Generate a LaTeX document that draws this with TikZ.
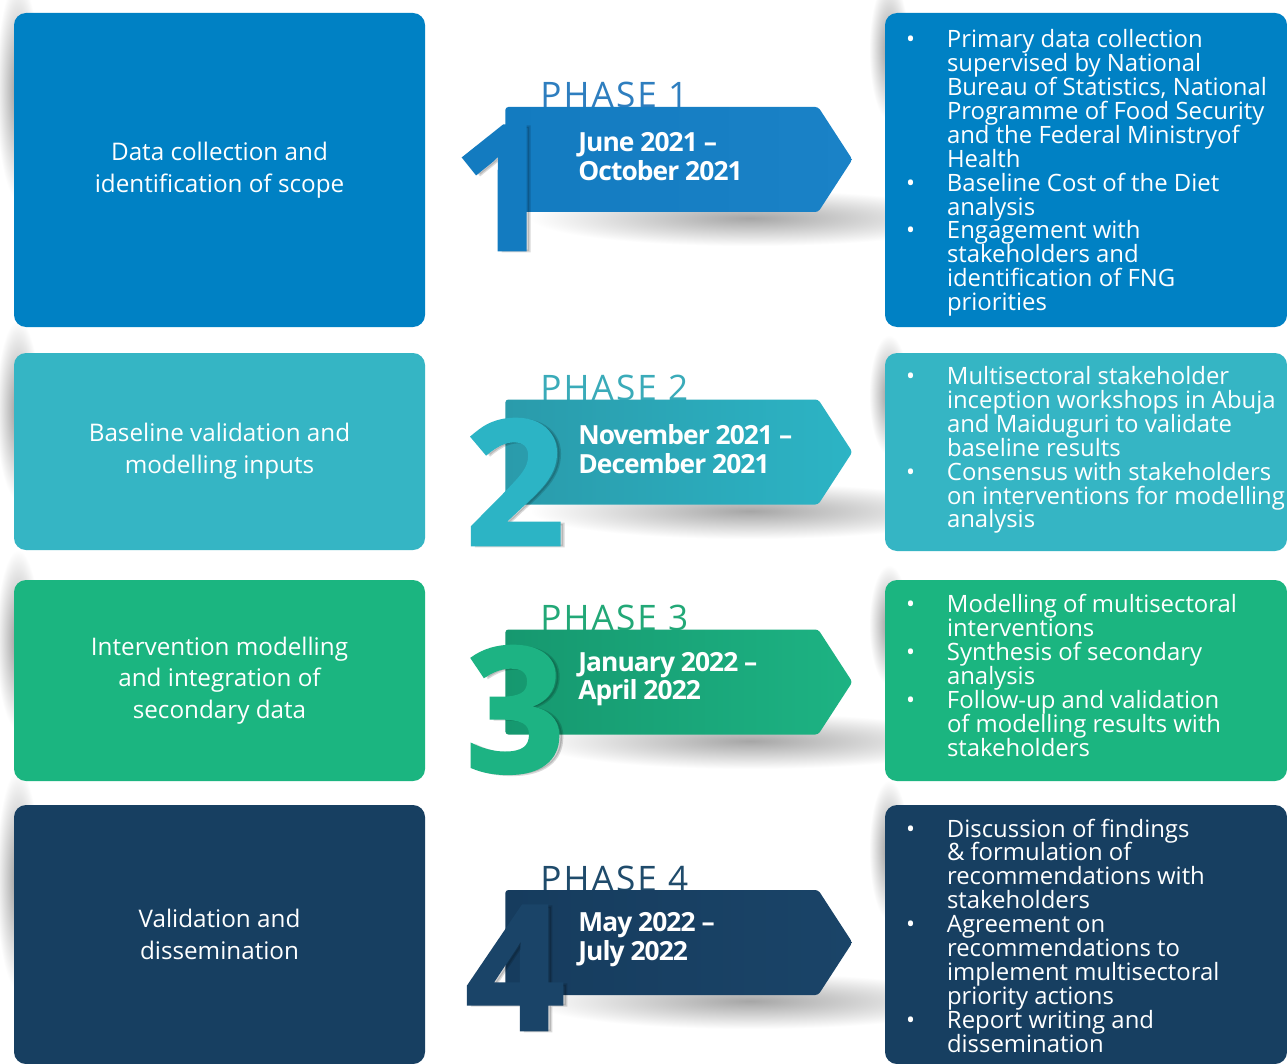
\documentclass[tikz,border=0pt]{standalone}
\usepackage{fontspec}
\setmainfont{Open Sans}
\newfontfamily\datefont[LetterSpace=-3.5]{Open Sans}
\newfontfamily\phasefont[LetterSpace=6]{Open Sans}
\newfontfamily\digitfont[BoldFeatures={FakeBold=1.6}]{Open Sans}
\usetikzlibrary{positioning, shapes.symbols}
\newlength\px \setlength\px{0.02cm}
\definecolor{blueA}{HTML}{0081C4}
\definecolor{blueR}{HTML}{137BC0}
\definecolor{blueS}{HTML}{1A82C7}
\definecolor{blueT}{HTML}{2E7EBF}
\definecolor{tealA}{HTML}{35B5C4}
\definecolor{tealR}{HTML}{2A9BAB}
\definecolor{tealS}{HTML}{2CB4C5}
\definecolor{tealT}{HTML}{3AABB9}
\definecolor{greenA}{HTML}{1BB580}
\definecolor{greenR}{HTML}{16986F}
\definecolor{greenS}{HTML}{1DB383}
\definecolor{greenT}{HTML}{22A877}
\definecolor{navyA}{HTML}{173F61}
\definecolor{navyR}{HTML}{163C5E}
\definecolor{navyS}{HTML}{1A4468}
\definecolor{navyT}{HTML}{1F4B6B}
\newcommand\bul{\llap{\makebox[41\px][l]{\textbullet}}}
\newcommand\tightlines{\lineskiplimit-20pt\relax}

\begin{document}
\begin{tikzpicture}
        [
            x=0.02cm, y=-0.02cm,
            lbox/.style={rectangle, rounded corners=12\px, fill=#1, minimum width=411\px,
                inner sep=0pt, text=white, align=center, font=\fontsize{13.8}{18.1}\selectfont},
            rbox/.style={rectangle, rounded corners=12\px, fill=#1, minimum width=402\px, inner sep=0pt},
            items/.style={text=white, align=left, inner sep=0pt,
                font=\fontsize{13.6}{13.6}\selectfont\tightlines},
            ribbon/.style={signal, signal to=east, signal pointer angle=114, rounded corners=3\px,
                minimum width=347\px, minimum height=105\px, inner sep=0pt, anchor=west},
            date/.style={text=white, align=left, inner sep=0pt, font=\fontsize{15}{16.2}\datefont\bfseries},
            phase/.style={inner sep=0pt, font=\fontsize{20}{20}\phasefont},
            digit/.style={inner sep=0pt, anchor=base, font=\fontsize{99}{99}\digitfont\bfseries},
            soft/.style={inner color=black!#1, outer color=white},
        ]
    \useasboundingbox (0,0) rectangle (1287,1064);
    \clip (0,0) rectangle (1287,1064);
    \fill[white] (0,0) rectangle (1287,1064);

    % shadows
    \shade[soft=40] (18,90) ellipse (22 and 110);
    \shade[soft=40] (889,50) ellipse (20 and 70);
    \shade[soft=35] (750,218) ellipse (220 and 28);
    \shade[soft=40] (18,410) ellipse (22 and 90);
    \shade[soft=40] (889,395) ellipse (20 and 60);
    \shade[soft=35] (750,511) ellipse (220 and 28);
    \shade[soft=40] (18,640) ellipse (22 and 90);
    \shade[soft=40] (889,625) ellipse (20 and 60);
    \shade[soft=35] (750,741) ellipse (220 and 28);
    \shade[soft=40] (18,880) ellipse (22 and 110);
    \shade[soft=40] (889,850) ellipse (20 and 70);
    \shade[soft=35] (750,1001) ellipse (220 and 28);

    % phase 1
    \node[lbox=blueA, minimum height=314\px] (s1) at (219.5,170) {Data collection and\\identification of scope};
    \node[rbox=blueA, minimum height=314\px] (b1) at (1086,170) {};
    \node[items, anchor=west] (t1) at ([xshift=62\px, yshift=-3\px]b1.west)
        {\bul Primary data collection\\supervised by National\\Bureau of Statistics, National\\Programme of Food Security\\and the Federal Ministryof\\Health\\
         \bul Baseline Cost of the Diet\\analysis\\
         \bul Engagement with\\stakeholders and\\identification of FNG\\priorities};
    \node[phase, text=blueT, anchor=base west] (p1) at (540,108) {PHASE 1};
    \node[ribbon, left color=blueR, right color=blueS] (r1) at (505,159.5) {};
    \node[date, anchor=west] (d1) at ([xshift=73\px, yshift=3\px]r1.west) {June 2021 –\\October 2021};
    \node[digit, text=black, opacity=.15] at (507,251) {1};
    \node[digit, text=blueR] (n1) at (503,250) {1};

    % phase 2
    \node[lbox=tealA, minimum height=197\px] (s2) at (219.5,451.5) {Baseline validation and\\modelling inputs};
    \node[rbox=tealA, minimum height=198\px] (b2) at (1086,452) {};
    \node[items, anchor=west] (t2) at ([xshift=62\px, yshift=2\px]b2.west)
        {\bul Multisectoral stakeholder\\inception workshops in Abuja\\and Maiduguri to validate\\baseline results\\
         \bul Consensus with stakeholders\\on interventions for modelling\\analysis};
    \node[phase, text=tealT, anchor=base west] (p2) at (540,400) {PHASE 2};
    \node[ribbon, left color=tealR, right color=tealS] (r2) at (505,452) {};
    \node[date, anchor=west] (d2) at ([xshift=73\px, yshift=3\px]r2.west) {November 2021 –\\December 2021};
    \node[digit, text=black, opacity=.15] at (519,546) {2};
    \node[digit, text=tealS] (n2) at (515,545) {2};

    % phase 3
    \node[lbox=greenA, minimum height=201\px] (s3) at (219.5,680.5) {Intervention modelling\\and integration of\\secondary data};
    \node[rbox=greenA, minimum height=201\px] (b3) at (1086,680.5) {};
    \node[items, anchor=west] (t3) at ([xshift=62\px, yshift=5\px]b3.west)
        {\bul Modelling of multisectoral\\interventions\\
         \bul Synthesis of secondary\\analysis\\
         \bul Follow-up and validation\\of modelling results with\\stakeholders};
    \node[phase, text=greenT, anchor=base west] (p3) at (540,630) {PHASE 3};
    \node[ribbon, left color=greenR, right color=greenS] (r3) at (505,682) {};
    \node[date, anchor=west] (d3) at ([xshift=73\px, yshift=3\px]r3.west) {January 2022 –\\April 2022};
    \node[digit, text=black, opacity=.15] at (519,773) {3};
    \node[digit, text=greenS] (n3) at (515,772) {3};

    % phase 4
    \node[lbox=navyA, minimum height=259\px] (s4) at (219.5,934.5) {Validation and\\dissemination};
    \node[rbox=navyA, minimum height=259\px] (b4) at (1086,934.5) {};
    \node[items, anchor=west] (t4) at ([xshift=62\px, yshift=-1\px]b4.west)
        {\bul Discussion of findings\\\& formulation of\\recommendations with\\stakeholders\\
         \bul Agreement on\\recommendations to\\implement multisectoral\\priority actions\\
         \bul Report writing and\\dissemination};
    \node[phase, text=navyT, anchor=base west] (p4) at (540,891) {PHASE 4};
    \node[ribbon, left color=navyR, right color=navyS] (r4) at (505,942.5) {};
    \node[date, anchor=west] (d4) at ([xshift=73\px, yshift=3\px]r4.west) {May 2022 –\\July 2022};
    \node[digit, text=black, opacity=.15] at (519,1031) {4};
    \node[digit, text=navyS] (n4) at (515,1030) {4};
\end{tikzpicture}
\end{document}
